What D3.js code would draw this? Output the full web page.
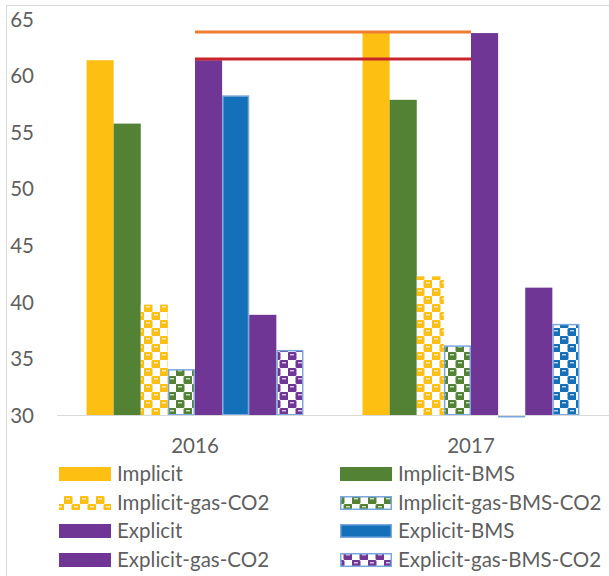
<!DOCTYPE html>
<html>
<head>
<meta charset="utf-8">
<script src="https://cdn.jsdelivr.net/npm/d3@7"></script>
<style>
  html, body { margin: 0; padding: 0; background: #fff; }
  svg { display: block; font-family: Lato, 'Open Sans', sans-serif; }
  .tick-label, .cat-label, .legend-label { fill: #5f5f5f; font-size: 20.5px; }
</style>
</head>
<body>
<div id="chart"></div>
<script>
const categories = ['2016', '2017'];
const seriesNames = [
  'Implicit', 'Implicit-BMS',
  'Implicit-gas-CO2', 'Implicit-gas-BMS-CO2',
  'Explicit', 'Explicit-BMS',
  'Explicit-gas-CO2', 'Explicit-gas-BMS-CO2',
];
const implicit = [61.4, 63.9];
const implicitBMS = [55.8, 57.9];
const implicitGasCO2 = [39.8, 42.3];
const implicitGasBMSCO2 = [34.1, 36.2];
const explicit = [61.4, 63.8];
const explicitBMS = [58.3, 29.9];
const explicitGasCO2 = [38.9, 41.3];
const explicitGasBMSCO2 = [35.8, 38.1];
const orangeLine = [63.9, 63.9];
const redLine = [61.5, 61.5];
const yTicks = [30, 35, 40, 45, 50, 55, 60, 65];

const seriesValues = [
  implicit, implicitBMS, implicitGasCO2, implicitGasBMSCO2,
  explicit, explicitBMS, explicitGasCO2, explicitGasBMSCO2,
];

// look of every series, fill list is per-category
const yellow = '#FCBF12';
const green = '#548235';
const purple = '#703696';
const blue = '#1470B8';
const edgeBlue = '#7AA8DC';
const seriesStyle = [
  {fill: [yellow, yellow]},
  {fill: [green, green]},
  {fill: ['url(#pat-yellow)', 'url(#pat-yellow)'], legend: 'url(#pat-yellow)'},
  {fill: ['url(#pat-green)', 'url(#pat-green)'], legend: 'url(#pat-green)', stroke: edgeBlue},
  {fill: [purple, purple]},
  {fill: [blue, blue], stroke: edgeBlue},
  {fill: [purple, purple]},
  {fill: ['url(#pat-purple)', 'url(#pat-blue)'], legend: 'url(#pat-purple)', stroke: edgeBlue},
];

const width = 609;
const height = 576;

const svg = d3.select('#chart').append('svg')
    .attr('width', width)
    .attr('height', height);

// sphere-like hatch used by the "gas" series
const defs = svg.append('defs');
[['yellow', yellow], ['green', green], ['purple', purple], ['blue', blue]].forEach(([name, color]) => {
  const p = defs.append('pattern')
      .attr('id', `pat-${name}`)
      .attr('patternUnits', 'userSpaceOnUse')
      .attr('width', 16)
      .attr('height', 16);
  p.append('rect').attr('width', 16).attr('height', 16).attr('fill', '#fff');
  [[0, 0], [8, 8]].forEach(([dx, dy]) => {
    p.append('rect')
        .attr('x', dx - 0.5)
        .attr('y', dy)
        .attr('width', 9)
        .attr('height', 8)
        .attr('rx', 1.5)
        .attr('fill', color);
    p.append('rect')
        .attr('x', dx + 2)
        .attr('y', dy + 2)
        .attr('width', 4)
        .attr('height', 1.5)
        .attr('fill', '#fff')
        .attr('opacity', 0.7);
  });
});

// chart frame
svg.append('rect')
    .attr('x', 6.5)
    .attr('y', 5.5)
    .attr('width', width + 10)
    .attr('height', height + 10)
    .attr('fill', 'none')
    .attr('stroke', '#d9d9d9');

const y = d3.scaleLinear()
    .domain([30, 65])
    .range([415.5, 19.5]);

const x0 = d3.scaleBand()
    .domain(categories)
    .range([57, 609]);

const groupWidth = x0.bandwidth() * 0.786;
const x1 = d3.scaleBand()
    .domain(seriesNames)
    .range([0, groupWidth]);

// y tick labels (no axis line, no gridlines)
svg.append('g').selectAll('text')
    .data(yTicks)
    .enter()
    .append('text')
    .classed('tick-label', true)
    .attr('x', 34)
    .attr('y', (d) => y(d))
    .attr('dy', '0.35em')
    .attr('text-anchor', 'end')
    .text((d) => d);

// bars
const groups = svg.append('g').attr('name', 'bars');
seriesNames.forEach((name, si) => {
  const style = seriesStyle[si];
  seriesValues[si].forEach((v, ci) => {
    const cat = categories[ci];
    const bx = x0(cat) + (x0.bandwidth() - groupWidth) / 2 + x1(name);
    const top = Math.min(y(v), y(30));
    const h = Math.max(Math.abs(y(30) - y(v)), 1.5);
    const bar = groups.append('rect')
        .attr('x', bx)
        .attr('y', top)
        .attr('width', x1.bandwidth())
        .attr('height', h)
        .attr('fill', style.fill[ci]);
    if (style.stroke) {
      bar.attr('x', bx + 0.75)
          .attr('y', top + 0.75)
          .attr('width', x1.bandwidth() - 1.5)
          .attr('height', Math.max(h - 1.5, 0.5))
          .attr('stroke', style.stroke)
          .attr('stroke-width', 1.5);
    }
  });
});

// category axis
svg.append('line')
    .attr('x1', 57)
    .attr('x2', width)
    .attr('y1', y(30))
    .attr('y2', y(30))
    .style('stroke', '#d9d9d9')
    .style('stroke-width', 1.2);

svg.append('g').selectAll('text')
    .data(categories)
    .enter()
    .append('text')
    .classed('cat-label', true)
    .attr('x', (d) => x0(d) + x0.bandwidth() / 2)
    .attr('y', 453)
    .attr('text-anchor', 'middle')
    .text((d) => d);

// reference lines across the two categories
const line = d3.line()
    .x((d, i) => x0(categories[i]) + x0.bandwidth() / 2)
    .y((d) => y(d));
[[orangeLine, '#ED7D31'], [redLine, '#C9242B']].forEach(([vals, color]) => {
  svg.append('path')
      .attr('d', line(vals))
      .attr('fill', 'none')
      .attr('stroke', color)
      .attr('stroke-width', 3);
});

// legend, two columns
const legend = svg.append('g').attr('name', 'legend');
const colX = [59, 340];
const rowY = [474, 503, 531, 560];
seriesNames.forEach((name, si) => {
  const style = seriesStyle[si];
  const lx = colX[si % 2];
  const ly = rowY[Math.floor(si / 2)];
  const sw = legend.append('rect')
      .attr('x', lx)
      .attr('y', ly - 7)
      .attr('width', 52)
      .attr('height', 14)
      .attr('fill', style.legend || style.fill[0]);
  if (style.stroke) {
    sw.attr('x', lx + 0.75)
        .attr('y', ly - 6.25)
        .attr('width', 50.5)
        .attr('height', 12.5)
        .attr('stroke', style.stroke)
        .attr('stroke-width', 1.5);
  }
  legend.append('text')
      .classed('legend-label', true)
      .attr('x', lx + 58)
      .attr('y', ly)
      .attr('dy', '0.35em')
      .text(name);
});
</script>
</body>
</html>
